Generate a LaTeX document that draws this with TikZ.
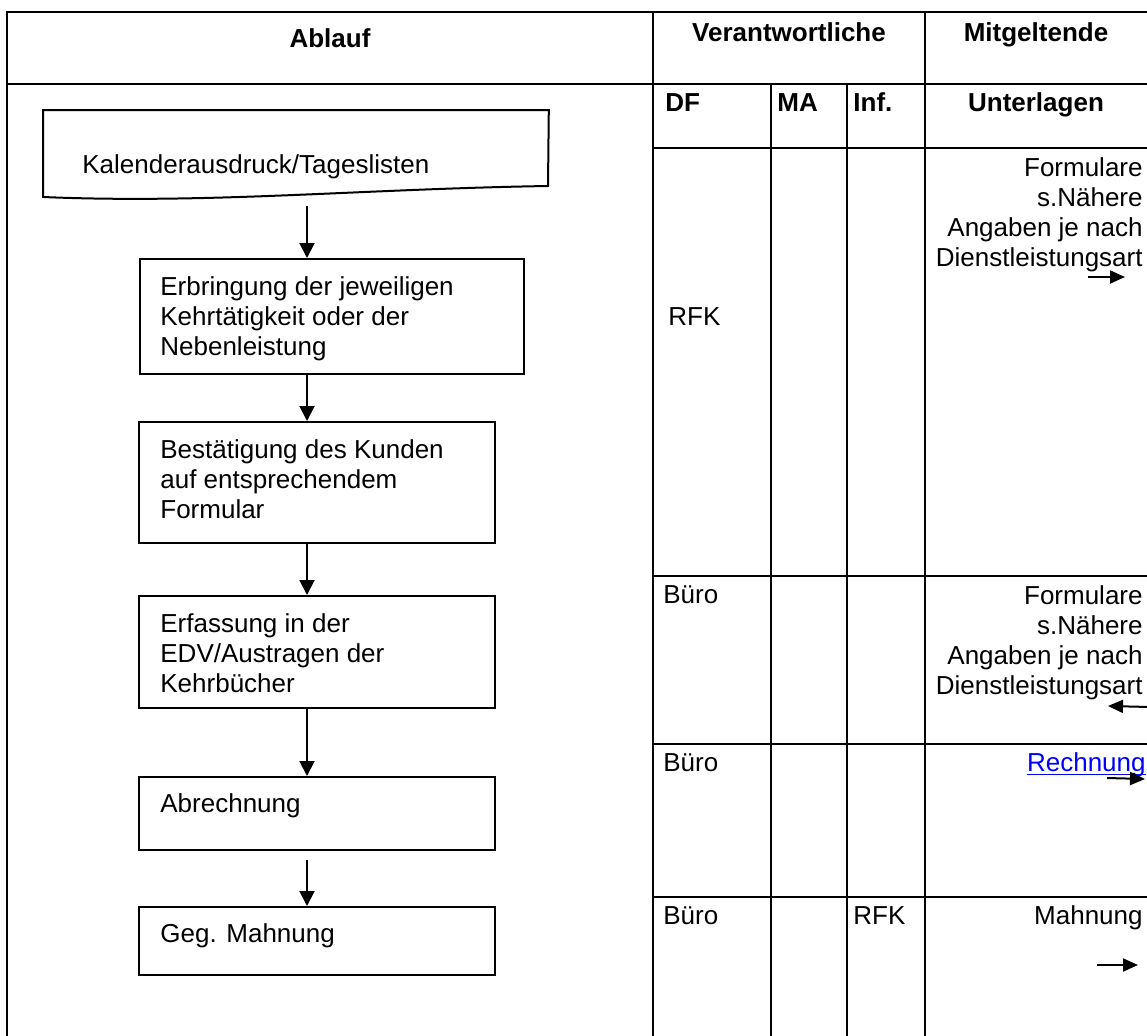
\documentclass[tikz,border=0pt]{standalone}
\usepackage{fontspec}
\setmainfont{Liberation Sans}
\usetikzlibrary{arrows.meta}
\begin{document}
\begin{tikzpicture}[x=0.5pt,y=-0.5pt,
  tbl/.style={line width=1.3pt},
  flowbox/.style={draw, line width=1pt, inner sep=0pt, anchor=north west},
  txt/.style={inner sep=0pt, font=\fontsize{13pt}{15pt}\selectfont},
  hdr/.style={inner sep=0pt, font=\fontsize{13pt}{15pt}\selectfont\bfseries},
  flow/.style={line width=1pt, -{Triangle[width=7.5pt,length=7.5pt]}},
  sidearrow/.style={line width=1pt, -{Triangle[width=6.5pt,length=7.5pt]}},
]
\useasboundingbox (0,0) rectangle (1147,1035);
\fill[white] (0,0) rectangle (1147,1035);

% ---------- table grid ----------
\draw[tbl] (1147,12) -- (7,12) -- (7,1040);
\draw[tbl] (7,84) -- (1147,84);
\draw[tbl] (653,12) -- (653,1040);
\draw[tbl] (925,12) -- (925,1040);
\draw[tbl] (771,84) -- (771,1040);
\draw[tbl] (847,84) -- (847,1040);
\foreach \yy in {148,576,744,897} \draw[tbl] (653,\yy) -- (1150,\yy);

% ---------- headers ----------
\node[hdr, anchor=base] (hAblauf) at (330,47) {Ablauf};
\node[hdr, anchor=base] (hVer) at (789,41) {Verantwortliche};
\node[hdr, anchor=base] (hMit) at (1036,41) {Mitgeltende};
\node[hdr, anchor=base west] (hDF) at (665,111) {DF};
\node[hdr, anchor=base west] (hMA) at (777,111) {MA};
\node[hdr, anchor=base west] (hInf) at (853,111) {Inf.};
\node[hdr, anchor=base] (hUnt) at (1036,111) {Unterlagen};

% ---------- responsibility cells ----------
\node[txt, anchor=base west] (r1) at (668,325) {RFK};
\node[txt, anchor=base west] (r2) at (663,603) {Büro};
\node[txt, anchor=base west] (r3) at (663,771) {Büro};
\node[txt, anchor=base west] (r4) at (663,924) {Büro};
\node[txt, anchor=base west] (r4inf) at (853,924) {RFK};

% ---------- documents column ----------
\node[txt, anchor=north east, align=right] (u1) at (1143,157)
  {Formulare\\s.Nähere\\Angaben je nach\\Dienstleistungsart};
\node[txt, anchor=north east, align=right] (u2) at (1143,585)
  {Formulare\\s.Nähere\\Angaben je nach\\Dienstleistungsart};
\node[txt, anchor=base east, text=blue] (u3) at (1146,771) {Rechnung};
\draw[blue, line width=0.8pt] ([yshift=-1.8pt]u3.base west) -- ([yshift=-1.8pt]u3.base east);
\node[txt, anchor=base east] (u4) at (1143,924) {Mahnung};

\coordinate (a1s) at (1088,277); \coordinate (a1e) at (1125,277);
\coordinate (a2s) at (1150,707); \coordinate (a2e) at (1108,706);
\coordinate (a3s) at (1107,778); \coordinate (a3e) at (1145,779);
\coordinate (a4s) at (1097,965); \coordinate (a4e) at (1138,965);
\draw[sidearrow] (a1s) -- (a1e);
\draw[sidearrow] (a2s) -- (a2e);
\draw[sidearrow] (a3s) -- (a3e);
\draw[sidearrow] (a4s) -- (a4e);

% ---------- flow chart ----------
\node[anchor=north west, inner sep=0pt, minimum width=252.5pt, minimum height=43.5pt] (doc) at (43,110) {};
\draw[line width=1pt] (doc.north west) -- (doc.north east) -- (548,186)
  .. controls (360,189) and (210,204) .. (43,197) -- cycle;
\node[txt, anchor=base west] (docT) at (82,173) {Kalenderausdruck/Tageslisten};

\node[flowbox, minimum width=192pt, minimum height=57.5pt] (b2) at (139,258) {};
\node[txt, anchor=north west, align=left] (b2T) at (160,276)
  {Erbringung der jeweiligen\\Kehrtätigkeit oder der\\Nebenleistung};

\node[flowbox, minimum width=178pt, minimum height=60.5pt] (b3) at (138,421) {};
\node[txt, anchor=north west, align=left] (b3T) at (160,439)
  {Bestätigung des Kunden\\auf entsprechendem\\Formular};

\node[flowbox, minimum width=178pt, minimum height=56pt] (b4) at (138,595) {};
\node[txt, anchor=north west, align=left] (b4T) at (160,613)
  {Erfassung in der\\EDV/Austragen der\\Kehrbücher};

\node[flowbox, minimum width=178pt, minimum height=36.5pt] (b5) at (138,776) {};
\node[txt, anchor=base west] (b5T) at (160,812) {Abrechnung};

\node[flowbox, minimum width=178pt, minimum height=34pt] (b6) at (138,906) {};
\node[txt, anchor=base west] (b6T) at (160,942) {Geg. Mahnung};

\coordinate (ax) at (307,0);
\draw[flow, shorten <=4pt] (doc.south -| ax) -- (b2.north -| ax);
\draw[flow] (b2.south -| ax) -- (b3.north -| ax);
\draw[flow] (b3.south -| ax) -- (b4.north -| ax);
\draw[flow] (b4.south -| ax) -- (b5.north -| ax);
\draw[flow, shorten <=4.5pt] (b5.south -| ax) -- (b6.north -| ax);
\end{tikzpicture}
\end{document}
